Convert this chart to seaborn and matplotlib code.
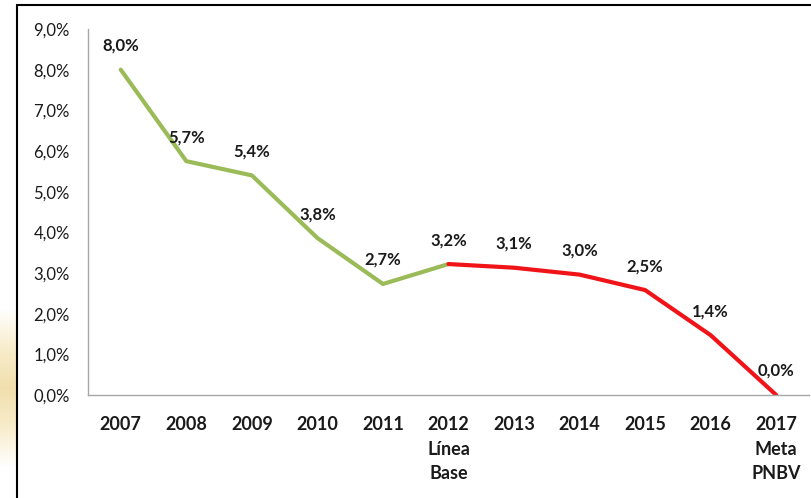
import matplotlib
matplotlib.use("Agg")
import matplotlib.pyplot as plt
import seaborn as sns
import numpy as np
import pandas as pd

years = ["2007", "2008", "2009", "2010", "2011", "2012\nLínea\nBase",
         "2013", "2014", "2015", "2016", "2017\nMeta\nPNBV"]
values = [8.0, 5.75, 5.4, 3.86, 2.73, 3.22, 3.13, 2.96, 2.58, 1.47, 0.0]
point_labels = ["8,0%", "5,7%", "5,4%", "3,8%", "2,7%", "3,2%",
                "3,1%", "3,0%", "2,5%", "1,4%", "0,0%"]
y_ticks = [0, 1, 2, 3, 4, 5, 6, 7, 8, 9]
y_tick_labels = ["0,0%", "1,0%", "2,0%", "3,0%", "4,0%", "5,0%",
                 "6,0%", "7,0%", "8,0%", "9,0%"]
base_index = 5  # 2012 línea base

sns.set_theme(style="white")
plt.rcParams['font.family'] = ['Lato', 'DejaVu Sans']

pos = np.arange(len(years))
rows = []
for i, v in enumerate(values):
    if i <= base_index:
        rows.append({"pos": i, "value": v, "segment": "hist"})
    if i >= base_index:
        rows.append({"pos": i, "value": v, "segment": "meta"})
df = pd.DataFrame(rows)

fig = plt.figure(figsize=(8.12, 4.98), dpi=100)
fig.patch.set_facecolor("white")

# beige background blur bottom-left outside frame
bg = fig.add_axes([0, 30/498, 17/812, 160/498])
grad = np.concatenate([np.linspace(0, 1, 50), np.linspace(1, 0, 50)]).reshape(-1, 1)
cmap = matplotlib.colors.LinearSegmentedColormap.from_list(
    "beige", ["#ffffff", "#f8edcc", "#f1e0ae"])
bg.imshow(grad, aspect="auto", cmap=cmap, extent=[0, 1, 0, 1])
bg.set_axis_off()

# frame (top and left border)
fig.add_artist(plt.Line2D([17/812, 17/812], [0, 1 - 5/498], color="black", lw=1.5,
                          transform=fig.transFigure))
fig.add_artist(plt.Line2D([17/812, 1], [1 - 5/498, 1 - 5/498], color="black", lw=1.5,
                          transform=fig.transFigure))

ax = fig.add_axes([88/812, 1 - 395/498, (809 - 88)/812, (395 - 29)/498])
sns.lineplot(data=df, x="pos", y="value", hue="segment",
             palette={"hist": "#9bbb59", "meta": "#f01418"},
             linewidth=3, legend=False, sort=False, ax=ax)

for i, (v, lab) in enumerate(zip(values, point_labels)):
    ax.annotate(lab, (i, v), xytext=(0, 24), textcoords="offset pixels",
                ha="center", va="center", fontsize=12, fontweight="bold",
                color="#1a1a1a")

ax.set_xlim(-0.5, len(years) - 0.5)
ax.set_ylim(0, 9)
ax.set_xticks(pos)
ax.set_xticklabels(years, fontsize=13, fontweight="bold", linespacing=1.55)
ax.set_yticks(y_ticks)
ax.set_yticklabels(y_tick_labels, fontsize=12)
ax.tick_params(axis="x", length=0, pad=15, colors="#1a1a1a")
ax.tick_params(axis="y", length=0, pad=13, colors="#1a1a1a")
ax.set_xlabel("")
ax.set_ylabel("")
for s in ["top", "right"]:
    ax.spines[s].set_visible(False)
for s in ["left", "bottom"]:
    ax.spines[s].set_color("#a6a6a6")
    ax.spines[s].set_linewidth(1)
ax.set_facecolor("none")

fig.savefig("out.png", dpi=100, facecolor="white")
